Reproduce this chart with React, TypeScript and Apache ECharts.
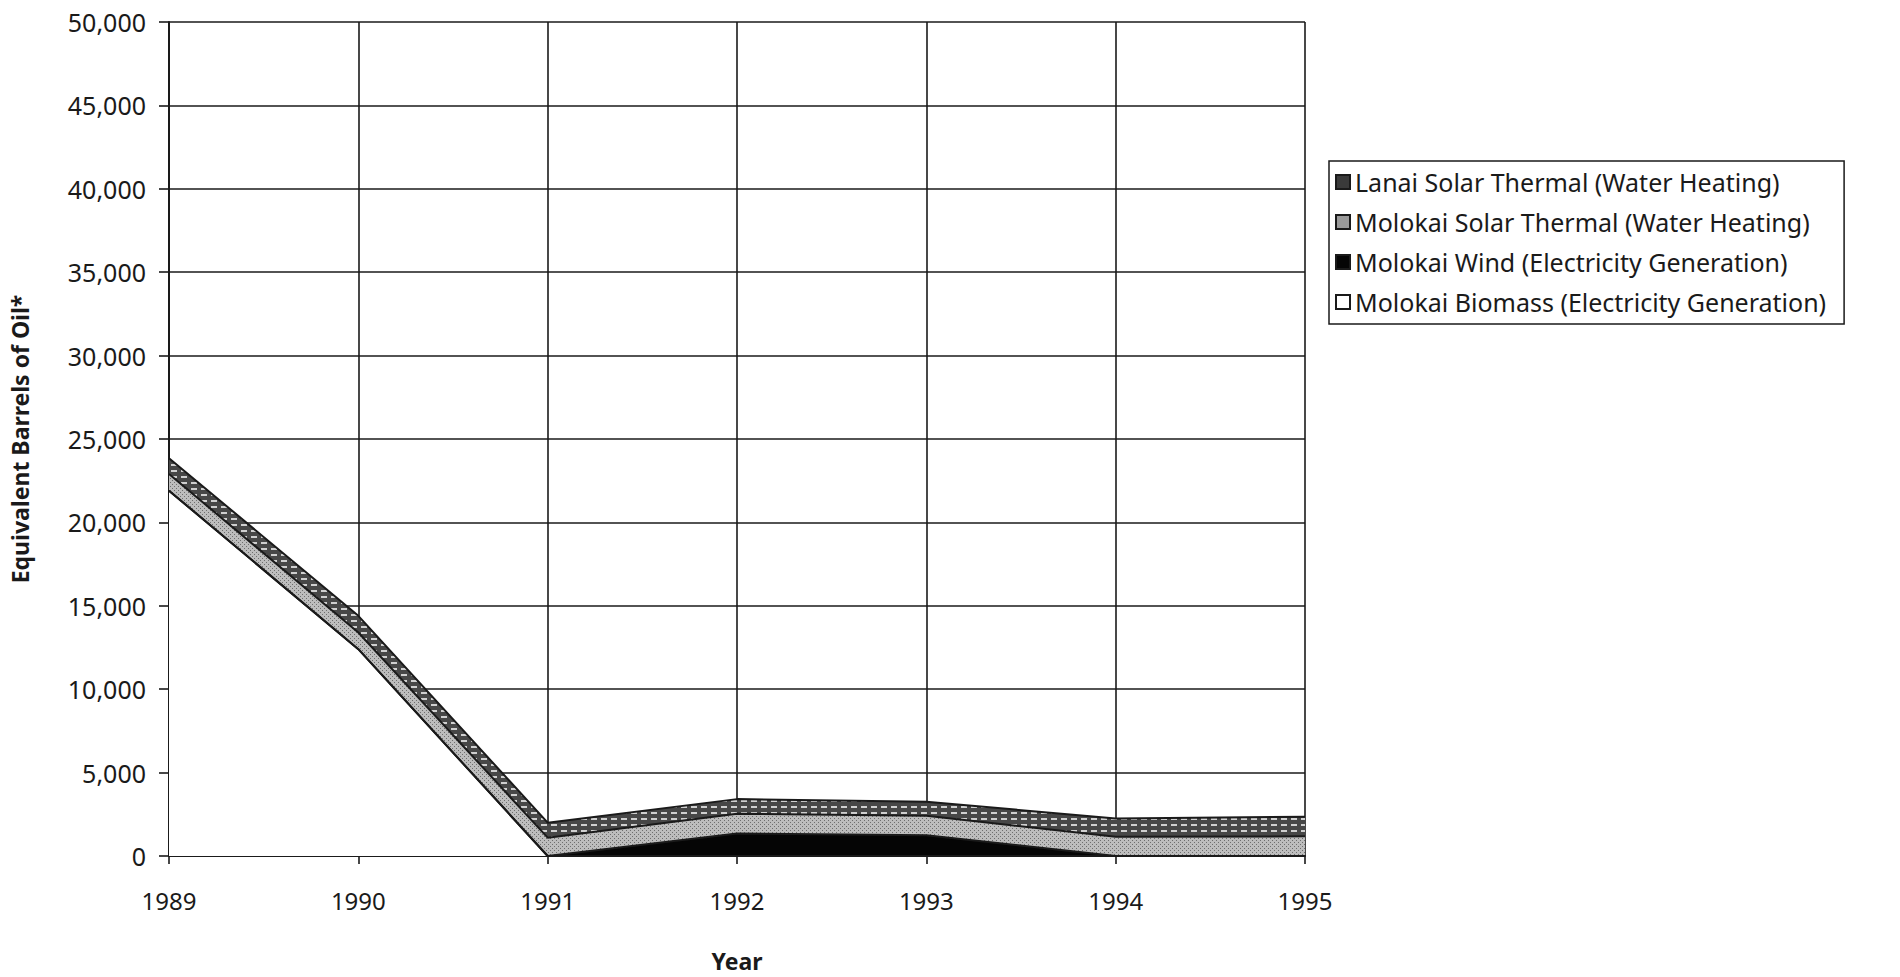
import React, { useEffect, useRef } from "react";
import * as echarts from "echarts";

const years = ["1989", "1990", "1991", "1992", "1993", "1994", "1995"];

// Stacked from the bottom up
const molokaiBiomass = [21900, 12400, 0, 0, 0, 0, 0];
const molokaiWind = [0, 0, 0, 1350, 1250, 0, 0];
const molokaiSolar = [1000, 1000, 1100, 1180, 1170, 1150, 1180];
const lanaiSolar = [950, 1000, 900, 880, 830, 1100, 1170];

const legendOrder = [
  "Lanai Solar Thermal (Water Heating)",
  "Molokai Solar Thermal (Water Heating)",
  "Molokai Wind (Electricity Generation)",
  "Molokai Biomass (Electricity Generation)",
];

const FONT = "'Noto Sans', 'DejaVu Sans', sans-serif";
const INK = "#1a1a1a";

// Small repeating tiles for the hatched / dotted fills
function dottedTile(): HTMLCanvasElement {
  const c = document.createElement("canvas");
  c.width = 4;
  c.height = 4;
  const g = c.getContext("2d")!;
  g.fillStyle = "#bdbdbd";
  g.fillRect(0, 0, 4, 4);
  g.fillStyle = "#6e6e6e";
  g.fillRect(0, 0, 1, 1);
  g.fillRect(2, 2, 1, 1);
  return c;
}

function dashTile(): HTMLCanvasElement {
  const c = document.createElement("canvas");
  c.width = 10;
  c.height = 6;
  const g = c.getContext("2d")!;
  g.fillStyle = "#474747";
  g.fillRect(0, 0, 10, 6);
  g.fillStyle = "#cfcfcf";
  g.fillRect(1, 2, 6, 2);
  return c;
}

export default function App() {
  const ref = useRef<HTMLDivElement>(null);

  useEffect(() => {
    document.body.style.margin = "0";
    if (!ref.current) return;
    const chart = echarts.init(ref.current, undefined, { renderer: "svg" });

    const dots = { image: dottedTile(), repeat: "repeat" };
    const dashes = { image: dashTile(), repeat: "repeat" };

    const layer = (name: string, data: number[], fill: any, icon: string) => ({
      name,
      type: "line",
      stack: "total",
      data,
      symbol: "none",
      lineStyle: { color: INK, width: 2 },
      itemStyle: { color: icon, borderColor: INK, borderWidth: 1.5 },
      areaStyle: { color: fill, opacity: 1 },
    });

    chart.setOption({
      animation: false,
      backgroundColor: "#ffffff",
      textStyle: { fontFamily: FONT, color: INK },
      grid: { left: 164, right: 595, top: 22, bottom: 107, containLabel: false },
      legend: {
        data: legendOrder,
        orient: "vertical",
        left: 1329,
        top: 161,
        padding: [6, 18, 7, 6],
        itemGap: 10,
        itemWidth: 14,
        itemHeight: 14,
        icon: "rect",
        borderColor: INK,
        borderWidth: 1.5,
        textStyle: {
          fontFamily: FONT,
          fontSize: 25,
          lineHeight: 30,
          color: INK,
          padding: [0, 0, 0, 0],
        },
      },
      xAxis: {
        type: "category",
        data: years,
        boundaryGap: false,
        name: "Year",
        nameLocation: "middle",
        nameGap: 93,
        nameTextStyle: { fontFamily: FONT, fontSize: 23, fontWeight: "bold", color: INK },
        axisLine: { show: true, lineStyle: { color: INK, width: 2 } },
        axisTick: { show: true, length: 8, alignWithLabel: true, lineStyle: { color: INK, width: 1.6 } },
        axisLabel: { fontFamily: FONT, fontSize: 24, color: INK, margin: 32 },
        splitLine: { show: true, lineStyle: { color: INK, width: 1.6 } },
      },
      yAxis: {
        type: "value",
        min: 0,
        max: 50000,
        interval: 5000,
        name: "Equivalent Barrels of Oil*",
        nameLocation: "middle",
        nameGap: 138,
        nameRotate: 90,
        nameTextStyle: { fontFamily: FONT, fontSize: 23, fontWeight: "bold", color: INK },
        axisLine: { show: true, lineStyle: { color: INK, width: 2 } },
        axisTick: { show: true, length: 10, lineStyle: { color: INK, width: 1.6 } },
        axisLabel: {
          fontFamily: FONT,
          fontSize: 25,
          color: INK,
          margin: 23,
          formatter: (v: number) => v.toLocaleString("en-US"),
        },
        splitLine: { show: true, lineStyle: { color: INK, width: 1.6 } },
      },
      series: [
        layer(legendOrder[3], molokaiBiomass, "#ffffff", "#ffffff"),
        layer(legendOrder[2], molokaiWind, "#050505", "#050505"),
        layer(legendOrder[1], molokaiSolar, dots, "#9a9a9a"),
        layer(legendOrder[0], lanaiSolar, dashes, "#3a3a3a"),
      ],
    });

    return () => chart.dispose();
  }, []);

  return <div ref={ref} style={{ width: 1900, height: 977 }} />;
}
